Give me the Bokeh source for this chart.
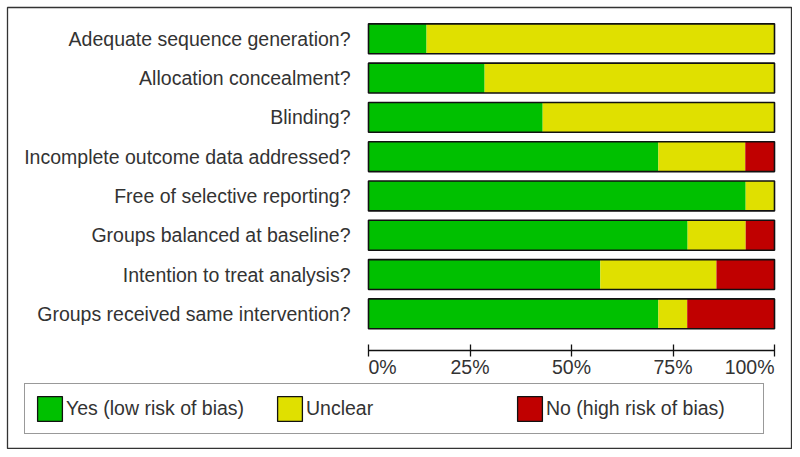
from bokeh.plotting import figure
from bokeh.models import (ColumnDataSource, Range1d, LinearAxis, FixedTicker,
                          Legend, LegendItem)
from bokeh.core.properties import value
from bokeh.embed import file_html
from bokeh.resources import INLINE

# ---------------- data ----------------
categories = [
    "Adequate sequence generation?",
    "Allocation concealment?",
    "Blinding?",
    "Incomplete outcome data addressed?",
    "Free of selective reporting?",
    "Groups balanced at baseline?",
    "Intention to treat analysis?",
    "Groups received same intervention?",
]
yes_low = [14.3, 28.6, 42.9, 71.4, 92.9, 78.6, 57.1, 71.4]
unclear = [85.7, 71.4, 57.1, 21.4, 7.1, 14.3, 28.6, 7.1]
no_high = [0.0, 0.0, 0.0, 7.2, 0.0, 7.1, 14.3, 21.5]

series_labels = ["Yes (low risk of bias)", "Unclear", "No (high risk of bias)"]
series_colors = ["#00C000", "#E0E000", "#C00000"]

tick_values = [0, 25, 50, 75, 100]
tick_labels = ["0%", "25%", "50%", "75%", "100%"]

# ---------------- layout constants ----------------
BORDER = 7             # frame offset in the figure
FRAME_W, FRAME_H = 784, 441
PX_PER_PCT = 4.06      # pixels per percentage point
BAR0_PX = 361          # x of 0% inside the frame
ROW_PX = 39.29         # row pitch
ROW0_PX = 31.3         # centre of first row from the frame top
BAR_H = 0.76           # bar thickness (rows)
AXIS_PX = 343          # axis line from the frame top
TICKLBL_PX = 359.5     # tick label baseline from the frame top
FONT = "Liberation Sans"
FSIZE = "19.5px"
TXT = "#333333"

x_start = -BAR0_PX / PX_PER_PCT
x_end = x_start + FRAME_W / PX_PER_PCT
y_top = -ROW0_PX / ROW_PX
y_bottom = y_top + FRAME_H / ROW_PX

def y_at(px):
    return y_top + px / ROW_PX

rows = list(range(len(categories)))
totals = [a + b + c for a, b, c in zip(yes_low, unclear, no_high)]
src = ColumnDataSource(dict(row=rows, yes=yes_low, unclear=unclear, no=no_high,
                            zero=[0] * len(rows), total=totals))

p = figure(width=FRAME_W + BORDER + 1, height=FRAME_H + BORDER + 1,
           x_range=Range1d(x_start, x_end), y_range=Range1d(y_bottom, y_top),
           min_border_left=BORDER, min_border_top=BORDER,
           min_border_right=1, min_border_bottom=1,
           x_axis_location=None, y_axis_location=None,
           output_backend="svg", toolbar_location=None, tools="")
for g in p.grid:
    g.visible = False
p.outline_line_color = "#333333"
p.outline_line_width = 1.3
p.background_fill_color = "white"
p.border_fill_color = "white"

# stacked bars
p.hbar_stack(["yes", "unclear", "no"], y="row", height=BAR_H,
             color=series_colors, line_color=None, source=src)
# outline around each row bar
p.hbar(y="row", left="zero", right="total", height=BAR_H, fill_color=None,
       line_color="#111111", line_width=1.6, source=src)

# category labels (left axis, fixed inside the frame at 0%)
yax = LinearAxis(fixed_location=0, ticker=FixedTicker(ticks=rows),
                 major_label_overrides={r: c for r, c in zip(rows, categories)})
yax.axis_line_color = None
yax.major_tick_line_color = None
yax.minor_tick_line_color = None
yax.major_tick_in = 0
yax.major_tick_out = 0
yax.major_label_standoff = 18
yax.major_label_text_font = FONT
yax.major_label_text_font_size = FSIZE
yax.major_label_text_color = TXT
p.add_layout(yax, "left")

# percentage axis
xax = LinearAxis(fixed_location=y_at(AXIS_PX), ticker=FixedTicker(ticks=tick_values),
                 bounds=(tick_values[0], tick_values[-1]))
xax.axis_line_color = "#111111"
xax.axis_line_width = 1.3
xax.major_tick_line_color = "#111111"
xax.major_tick_line_width = 1.3
xax.minor_tick_line_color = None
xax.major_tick_in = 6
xax.major_tick_out = 6
xax.major_label_text_color = None
p.add_layout(xax, "below")

aligns = ["left"] + ["center"] * (len(tick_values) - 2) + ["right"]
tsrc = ColumnDataSource(dict(x=tick_values, y=[y_at(TICKLBL_PX)] * len(tick_values),
                             t=tick_labels, a=aligns))
p.text(x="x", y="y", text="t", text_align="a", text_baseline="alphabetic",
       text_font=value(FONT), text_font_size=FSIZE, text_color=TXT, source=tsrc)

# legend (key-only renderers: a single NaN bar, so nothing is drawn in the plot)
nan = float("nan")
items = []
for lab, col in zip(series_labels, series_colors):
    r = p.hbar(y=[nan], left=[nan], right=[nan], height=BAR_H, fill_color=col,
               line_color="#111111", line_width=1.3)
    items.append(LegendItem(label=lab, renderers=[r]))

leg = Legend(items=items, orientation="horizontal", location=(17, 14),
             padding=9, spacing=0, margin=0,
             glyph_width=31, glyph_height=31, label_standoff=1, label_width=208,
             label_text_font=FONT, label_text_font_size=FSIZE,
             label_text_color=TXT, label_text_baseline="middle",
             border_line_color="#333333", border_line_width=1.3,
             background_fill_color="white", background_fill_alpha=1.0)
p.add_layout(leg)

open("out.html", "w").write(file_html(p, INLINE))
